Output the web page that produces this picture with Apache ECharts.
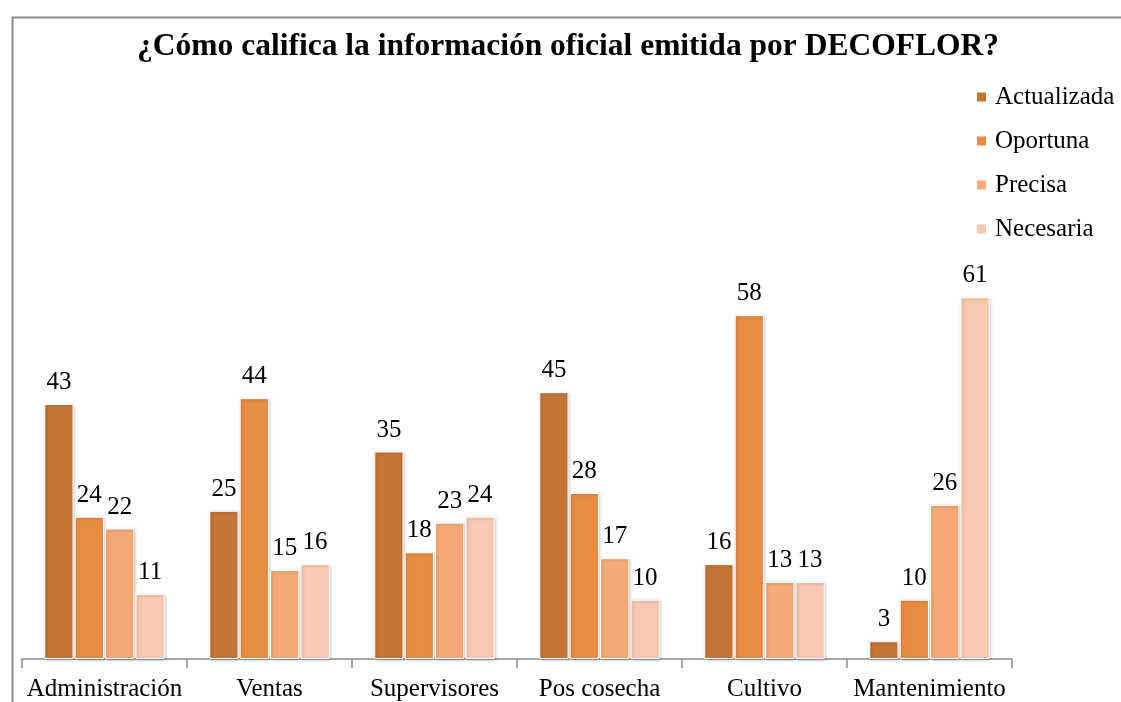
<!DOCTYPE html>
<html>
<head>
<meta charset="utf-8">
<script src="https://cdn.jsdelivr.net/npm/echarts@6/dist/echarts.min.js"></script>
<style>
  html, body { margin: 0; padding: 0; background: #fff; }
  #chart { width: 1121px; height: 702px; }
</style>
</head>
<body>
<div id="chart"></div>
<script>
// datos
const categorias = ["Administración", "Ventas", "Supervisores", "Pos cosecha", "Cultivo", "Mantenimiento"];
const actualizada = [43, 25, 35, 45, 16, 3];
const oportuna = [24, 44, 18, 28, 58, 10];
const precisa = [22, 15, 23, 17, 13, 26];
const necesaria = [11, 16, 24, 10, 13, 61];

const colores = ["#C47536", "#E88C42", "#F6A976", "#F8C9B0"];
const serif = "'Liberation Serif', 'DejaVu Serif', serif";

const chartDom = document.getElementById("chart");
const myChart = echarts.init(chartDom, null, { renderer: "canvas" });

const makeSerie = (name, values, color) => ({
  name: name,
  type: "bar",
  data: values,
  barGap: "4%",
  barCategoryGap: "27%",
  itemStyle: {
    color: color,
    borderColor: "#ffffff",
    borderWidth: 1,
    shadowColor: "rgba(0,0,0,0.25)",
    shadowBlur: 3,
    shadowOffsetX: 1,
    shadowOffsetY: 1,
  },
  label: {
    show: true,
    position: "top",
    distance: 9,
    fontFamily: serif,
    fontSize: 25,
    color: "#000",
  },
});

const option = {
  animation: false,
  title: {
    text: "¿Cómo califica la información oficial emitida por DECOFLOR?",
    left: 563,
    textAlign: "center",
    top: 26,
    textStyle: {
      fontFamily: serif,
      fontWeight: "bold",
      fontSize: 31.5,
      color: "#000",
    },
  },
  legend: {
    orient: "vertical",
    left: 970,
    top: 79,
    itemWidth: 11,
    itemHeight: 11,
    itemGap: 18,
    icon: "rect",
    textStyle: { fontFamily: serif, fontSize: 25, lineHeight: 26, color: "#000", padding: [0, 0, 0, 3] },
  },
  grid: {
    left: 22,
    right: 109,
    top: 244,
    bottom: 43,
    containLabel: false,
  },
  xAxis: {
    type: "category",
    data: categorias,
    axisLine: { lineStyle: { color: "#8a8a8a", width: 1.5 } },
    axisTick: { show: true, length: 9, lineStyle: { color: "#8a8a8a", width: 1.5 } },
    axisLabel: { interval: 0, hideOverlap: false, fontFamily: serif, fontSize: 25, color: "#000", margin: 18 },
  },
  yAxis: {
    type: "value",
    min: 0,
    max: 70,
    show: false,
    splitLine: { show: false },
  },
  graphic: [
    {
      type: "rect",
      left: 10,
      top: 15,
      shape: { width: 1130, height: 720 },
      style: { fill: "none", stroke: "#8c8c8c", lineWidth: 2 },
      silent: true,
      z: -1,
    },
  ],
  series: [
    makeSerie("Actualizada", actualizada, colores[0]),
    makeSerie("Oportuna", oportuna, colores[1]),
    makeSerie("Precisa", precisa, colores[2]),
    makeSerie("Necesaria", necesaria, colores[3]),
  ],
};

myChart.setOption(option);

window.addEventListener("resize", () => {
  myChart.resize();
});
</script>
</body>
</html>
